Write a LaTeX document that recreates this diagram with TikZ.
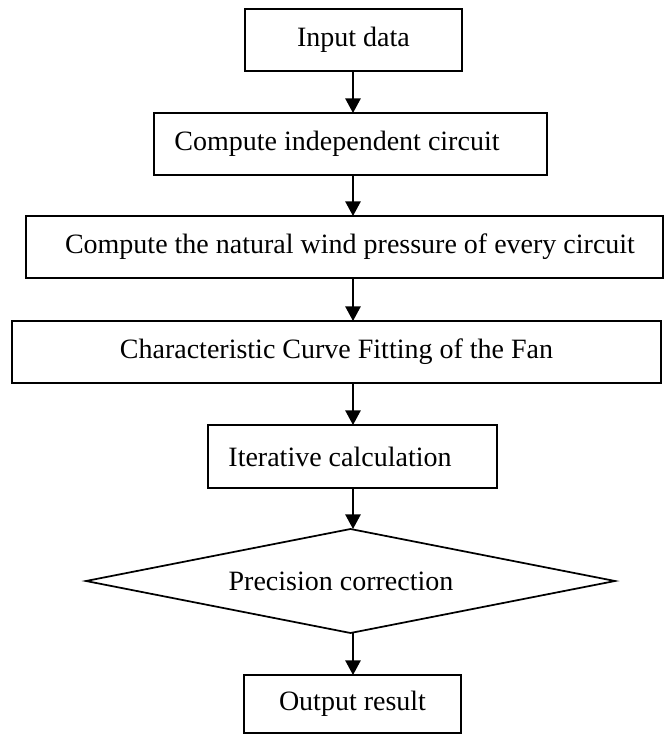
\documentclass[tikz,border=0pt]{standalone}
\usepackage{fontspec}
\setmainfont{Liberation Serif}
\usetikzlibrary{arrows.meta,shapes.geometric}
\begin{document}
\begin{tikzpicture}[x=0.75pt,y=-0.75pt,
  every node/.style={font=\fontsize{21}{25}\selectfont, inner sep=0pt, outer sep=0pt},
  procbox/.style={draw, line width=1.3pt, rectangle, minimum height=46.5pt},
  decbox/.style={draw, line width=1.3pt, diamond, shape aspect=5, minimum width=396.75pt, minimum height=78pt},
  arr/.style={line width=1.3pt, -{Triangle[width=11.5pt,length=11pt]}}]
\useasboundingbox (0,0) rectangle (664,735);
\coordinate (axis) at (353,0);
\node[procbox, minimum width=162.75pt] (b1) at (353.5,40) {Input data};
\node[procbox, minimum width=294.75pt] (b2) at (350.5,144) {Compute independent circuit\kern20.25pt\mbox{}};
\node[procbox, minimum width=477.75pt] (b3) at (344.5,247) {\hspace{8.25pt}Compute the natural wind pressure of every circuit};
\node[procbox, minimum width=486.75pt] (b4) at (336.5,352) {Characteristic Curve Fitting of the Fan};
\node[procbox, minimum width=216.75pt, minimum height=47.25pt] (b5) at (352.5,456.5) {Iterative calculation\kern18.75pt\mbox{}};
\node[decbox] (d) at (350.5,581) {Precision correction\kern14.25pt\mbox{}};
\node[procbox, minimum width=162.75pt, minimum height=43.5pt] (b6) at (352.5,704) {Output result};
\draw[arr] (axis |- b1.south) -- (axis |- b2.north);
\draw[arr] (axis |- b2.south) -- (axis |- b3.north);
\draw[arr] (axis |- b3.south) -- (axis |- b4.north);
\draw[arr] (axis |- b4.south) -- (axis |- b5.north);
\draw[arr] (axis |- b5.south) -- (axis |- d.north);
\draw[arr] (axis |- d.south) -- (axis |- b6.north);
\end{tikzpicture}
\end{document}
